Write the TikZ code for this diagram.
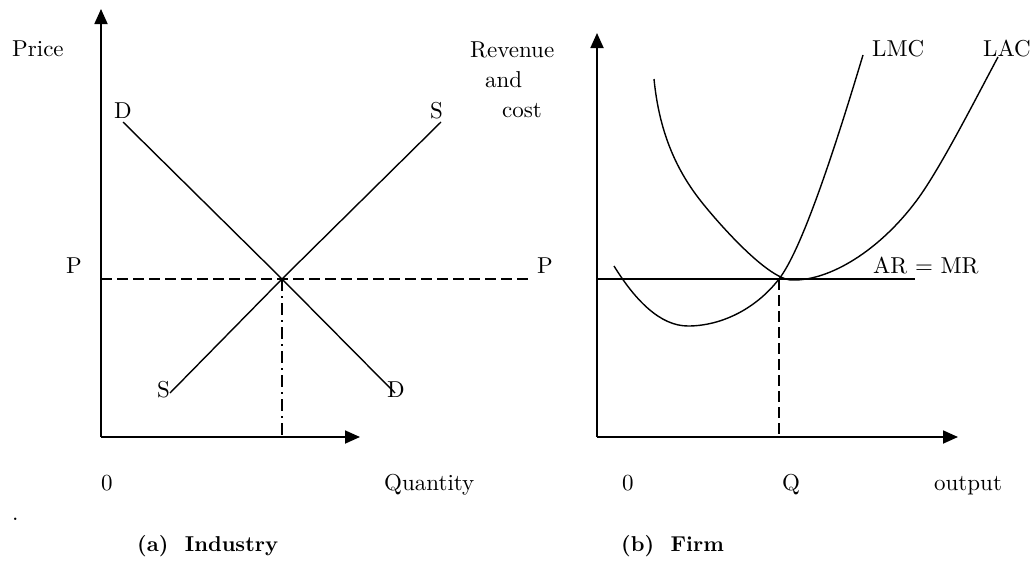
\documentclass[tikz,border=0pt]{standalone}
\usepackage{fontspec}
\setmainfont{lmroman10-regular.otf}[BoldFont=lmroman10-bold.otf]
\usetikzlibrary{arrows.meta}
\begin{document}
\begin{tikzpicture}[x=1pt,y=-1pt,
 axis/.style={line width=1.8pt,-{Triangle[length=15pt,width=13pt]}},
 curve/.style={line width=1.4pt},
 lbl/.style={anchor=base west,inner sep=0pt,font=\fontsize{23}{28}\selectfont},
 capt/.style={anchor=base west,inner sep=0pt,font=\fontsize{21.5}{26}\selectfont\bfseries},
 dashline/.style={line width=1.4pt,dash pattern=on 11pt off 5pt},
 dashdotline/.style={line width=1.2pt,dash pattern=on 12pt off 5pt on 2pt off 5pt}]
\useasboundingbox (0,0) rectangle (1036,560);
% ---------- left panel ----------
\coordinate (O1) at (101,437);
\coordinate (Y1) at (101,9);
\coordinate (X1) at (360,437);
\coordinate (E1) at (282,279);
\coordinate (Q1) at (282,437);
\coordinate (P1a) at (101,279);
\coordinate (P1b) at (528,279);
\coordinate (D1a) at (123,122);
\coordinate (D1b) at (395,393);
\coordinate (S1a) at (170,393);
\coordinate (S1b) at (441,122);
\draw[axis] (O1) -- (Y1);
\draw[axis] (O1) -- (X1);
\draw[curve] (D1a) -- (E1) -- (D1b);
\draw[curve] (S1a) -- (E1) -- (S1b);
\draw[dashline] (P1a) -- (P1b);
\draw[dashdotline] (E1) -- (Q1);
\node[lbl] (price) at (12,56) {Price};
\node[lbl] (dtop) at (114,118) {D};
\node[lbl] (stop) at (430,118) {S};
\node[lbl] (pl) at (66,273) {P};
\node[lbl] (pr) at (537,273) {P};
\node[lbl] (sbot) at (157,397) {S};
\node[lbl] (dbot) at (387,397) {D};
\node[lbl] (zero1) at (101,490) {0};
\node[lbl] (qty) at (384,490) {Quantity};
\node[lbl] (dot) at (12,520) {.};
\node[capt] (capa) at (137,551) {(a)\ \ Industry};
% ---------- right panel ----------
\coordinate (O2) at (597,437);
\coordinate (Y2) at (597,33);
\coordinate (X2) at (958,437);
\coordinate (E2) at (779,279);
\coordinate (Q2) at (779,437);
\coordinate (ARa) at (597,279);
\coordinate (ARb) at (915,279);
\coordinate (LMCa) at (614,266);
\coordinate (LMCm) at (688,326);
\coordinate (LMCb) at (863,55);
\coordinate (LACa) at (654,79);
\coordinate (LACk) at (700,200);
\coordinate (LACm) at (792,280);
\coordinate (LACj) at (917,200);
\coordinate (LACb) at (998,57);
\draw[axis] (O2) -- (Y2);
\draw[axis] (O2) -- (X2);
\draw[curve] (ARa) -- (ARb);
\draw[dashline] (E2) -- (Q2);
\draw[curve] (LMCa) .. controls (635,300) and (660,326) .. (LMCm)
  .. controls (720,326) and (755,310) .. (E2)
  .. controls (800,252) and (830,165) .. (LMCb);
\draw[curve] (LACa) .. controls (659,130) and (675,168) .. (LACk)
  .. controls (710,213) and (766,280) .. (LACm)
  .. controls (830,281) and (880,250) .. (LACj)
  .. controls (940,169) and (975,100) .. (LACb);
\node[lbl] (rev) at (470,57) {Revenue};
\node[lbl] (and) at (485,87) {and};
\node[lbl] (cost) at (502,117) {cost};
\node[lbl] (lmc) at (872,56) {LMC};
\node[lbl] (lac) at (983,56) {LAC};
\node[lbl] (armr) at (873,273) {AR = MR};
\node[lbl] (zero2) at (622,490) {0};
\node[lbl] (qlab) at (782,490) {Q};
\node[lbl] (outp) at (934,490) {output};
\node[capt] (capb) at (621,551) {(b)\ \ Firm};
\end{tikzpicture}
\end{document}
